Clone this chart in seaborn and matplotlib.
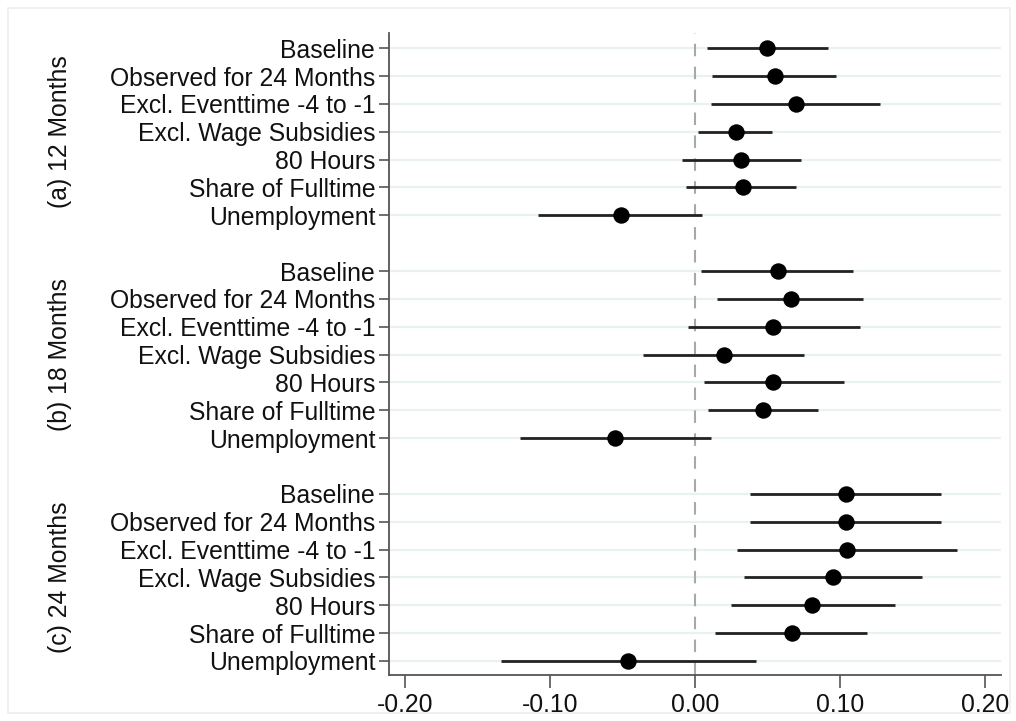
import numpy as np
import pandas as pd
import matplotlib
matplotlib.use("Agg")
import matplotlib.pyplot as plt
import seaborn as sns

# specifications, same order in every panel
specs = ["Baseline", "Observed for 24 Months", "Excl. Eventtime -4 to -1",
         "Excl. Wage Subsidies", "80 Hours", "Share of Fulltime", "Unemployment"]
groups = ["(a) 12 Months", "(b) 18 Months", "(c) 24 Months"]

# point estimates and 95% CI bounds, per panel
coef_12 = [0.050, 0.055, 0.070, 0.028, 0.032, 0.033, -0.051]
lo_12 = [0.008, 0.012, 0.011, 0.002, -0.009, -0.006, -0.108]
hi_12 = [0.092, 0.097, 0.128, 0.053, 0.073, 0.070, 0.005]

coef_18 = [0.057, 0.066, 0.054, 0.020, 0.054, 0.047, -0.055]
lo_18 = [0.004, 0.015, -0.005, -0.036, 0.006, 0.009, -0.121]
hi_18 = [0.109, 0.116, 0.114, 0.075, 0.103, 0.085, 0.011]

coef_24 = [0.104, 0.104, 0.105, 0.095, 0.081, 0.067, -0.046]
lo_24 = [0.038, 0.038, 0.029, 0.034, 0.025, 0.014, -0.134]
hi_24 = [0.170, 0.170, 0.181, 0.157, 0.138, 0.119, 0.042]

rows = []
for g, (c, lo, hi) in enumerate([(coef_12, lo_12, hi_12),
                                 (coef_18, lo_18, hi_18),
                                 (coef_24, lo_24, hi_24)]):
    for i, s in enumerate(specs):
        rows.append({"group": groups[g], "spec": s, "pos": g * 8 + i + 1,
                     "coef": c[i], "lo": lo[i], "hi": hi[i]})
df = pd.DataFrame(rows)

sns.set_theme(style="white")
plt.rcParams["font.family"] = ["Liberation Sans", "DejaVu Sans"]

fig = plt.figure(figsize=(10.16, 7.21), dpi=100)
ax = fig.add_axes([0.383, 0.064, 0.602, 0.890])

# light horizontal grid at each row
for p in df["pos"]:
    ax.axhline(p, color="#eaf1f3", lw=1.6, zorder=0)
ax.axvline(0, color="#a8a8a8", lw=1.5, ls=(0, (6, 5)), zorder=1)

ax.hlines(df["pos"], df["lo"], df["hi"], color="#222222", lw=2.0, zorder=2)
sns.scatterplot(data=df, x="coef", y="pos", ax=ax, color="black", s=140,
                edgecolor="black", linewidth=0, zorder=3, legend=False)

ax.set_xlim(-0.211, 0.211)
ax.set_ylim(23.5, 0.46)
ax.set_xticks([-0.2, -0.1, 0.0, 0.1, 0.2])
ax.set_xticklabels([f"{v:.2f}" for v in [-0.2, -0.1, 0.0, 0.1, 0.2]])
ax.set_yticks(df["pos"])
ax.set_yticklabels(df["spec"])
ax.set_xlabel("")
ax.set_ylabel("")

for side in ["top", "right"]:
    ax.spines[side].set_visible(False)
for side in ["left", "bottom"]:
    ax.spines[side].set_color("#555555")
    ax.spines[side].set_linewidth(1.3)
ax.tick_params(axis="y", length=7, width=1.2, color="#555555",
               labelsize=17.8, pad=3, left=True)
ax.tick_params(axis="x", length=9, width=1.2, color="#555555",
               labelsize=17.8, pad=4, bottom=True)
for t in ax.get_xticklabels() + ax.get_yticklabels():
    t.set_color("#111111")

# panel labels on the left
for g, name in enumerate(groups):
    ax.text(-0.538, g * 8 + 4, name, rotation=90, ha="center", va="center",
            fontsize=17.8, color="#111111",
            transform=ax.get_yaxis_transform())

# faint outer frame
fig.patches.append(plt.Rectangle((0.008, 0.011), 0.986, 0.978,
                                 transform=fig.transFigure, fill=False,
                                 edgecolor="#eeeeee", lw=1.2))

fig.savefig("out.png", dpi=100)
